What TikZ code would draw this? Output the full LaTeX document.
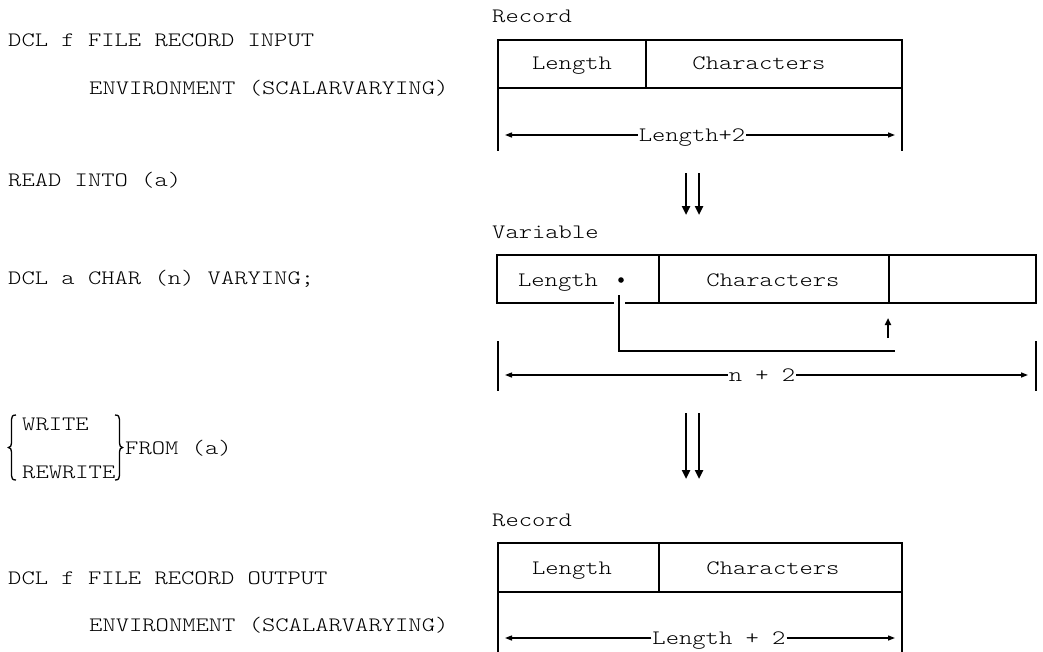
\documentclass[tikz,border=0pt]{standalone}
\usepackage{fontspec}
\newfontfamily\cour[FakeStretch=1.236]{lmmonolt10-regular.otf}
\usetikzlibrary{arrows.meta,calc}
\tikzset{
  txt/.style={anchor=base west,inner sep=0pt,font=\cour\fontsize{20.5}{24}\selectfont},
  ctxt/.style={anchor=base,inner sep=0pt,font=\cour\fontsize{20.5}{24}\selectfont},
  dlab/.style={anchor=base,inner xsep=1pt,inner ysep=0pt,font=\cour\fontsize{20.5}{24}\selectfont},
  boxline/.style={line width=2.3pt,line cap=rect},
  dimline/.style={line width=1.3pt,-{Triangle[length=7pt,width=5pt]}},
  flowarrow/.style={line width=2.6pt,-{Triangle[length=9pt,width=8pt]}},
  ptr/.style={line width=2.2pt},
  bracepath/.style={line width=1.3pt},
}
\begin{document}
\begin{tikzpicture}[x=1pt,y=-1pt]
\useasboundingbox (0,0) rectangle (1043,651);

% ---------- left texts ----------
\node[txt] (t1) at (8,46.5) {DCL f FILE RECORD INPUT};
\node[txt] (t2) at (89,94.5) {ENVIRONMENT (SCALARVARYING)};
\node[txt] (t3) at (8,186.5) {READ INTO (a)};
\node[txt] (t4) at (8,284.5) {DCL a CHAR (n) VARYING;};
\node[txt] (t5) at (22,430.5) {WRITE};
\node[txt] (t6) at (22,478.5) {REWRITE};
\node[txt] (t7) at (125,454.5) {FROM (a)};
\node[txt] (t8) at (8,584.5) {DCL f FILE RECORD OUTPUT};
\node[txt] (t9) at (89,631.5) {ENVIRONMENT (SCALARVARYING)};

% braces
\draw[bracepath] (16,415) .. controls (12.5,415) and (11.5,416.5) .. (11.5,419.5) -- (11.5,443)
  .. controls (11.5,446) and (10.5,447) .. (8.5,447.5)
  .. controls (10.5,448) and (11.5,449) .. (11.5,452) -- (11.5,475.5)
  .. controls (11.5,478.5) and (12.5,480) .. (16,480);
\draw[bracepath] (115,415) .. controls (118.5,415) and (119.5,416.5) .. (119.5,419.5) -- (119.5,443)
  .. controls (119.5,446) and (120.5,447) .. (122.5,447.5)
  .. controls (120.5,448) and (119.5,449) .. (119.5,452) -- (119.5,475.5)
  .. controls (119.5,478.5) and (118.5,480) .. (115,480);

% ---------- box 1 ----------
\node[txt] (r1) at (492,22.5) {Record};
\draw[boxline] (498,150) -- (498,40) -- (902,40) -- (902,150);
\draw[boxline] (498,88) -- (902,88);
\draw[boxline] (646,40) -- (646,88);
\node[ctxt] (l1) at (572,69.5) {Length};
\node[ctxt] (c1) at (759,69.5) {Characters};
\coordinate (d1l) at (505,135);
\coordinate (d1r) at (895,135);
\node[dlab] (dl1) at (692,141.5) {Length+2};
\draw[dimline] (dl1.west |- d1l) -- (d1l);
\draw[dimline] (dl1.east |- d1r) -- (d1r);

% flow arrows 1
\coordinate (fa1) at (686,173);
\coordinate (fa1e) at (686,215);
\coordinate (fb1) at (699,173);
\coordinate (fb1e) at (699,215);
\draw[flowarrow] (fa1) -- (fa1e);
\draw[flowarrow] (fb1) -- (fb1e);

% ---------- box 2 ----------
\node[txt] (v2) at (492,238.5) {Variable};
\draw[boxline] (613,303) -- (497,303) -- (497,255) -- (1036,255) -- (1036,303) -- (626,303);
\draw[boxline] (659,255) -- (659,303);
\draw[boxline] (889,255) -- (889,303);
\node[ctxt] (l2) at (558,286.5) {Length};
\node[ctxt] (c2) at (773,286.5) {Characters};
\fill (621,280) circle (2.8pt);
\coordinate (p0) at (619,295);
\coordinate (p1) at (619,351);
\coordinate (p2) at (895,351);
\draw[ptr] (p0) -- (p1) -- (p2);
\coordinate (u0) at (888,338);
\coordinate (u1) at (888,318);
\draw[line width=2pt,-{Triangle[length=7pt,width=6pt]}] (u0) -- (u1);
\draw[boxline] (498,342) -- (498,390);
\draw[boxline] (1036,342) -- (1036,390);
\coordinate (d2l) at (505,375);
\coordinate (d2r) at (1028,375);
\node[dlab] (dl2) at (762,381.5) {n + 2};
\draw[dimline] (dl2.west |- d2l) -- (d2l);
\draw[dimline] (dl2.east |- d2r) -- (d2r);

% flow arrows 2
\coordinate (fa2) at (686,413);
\coordinate (fa2e) at (686,479);
\coordinate (fb2) at (699,413);
\coordinate (fb2e) at (699,479);
\draw[flowarrow] (fa2) -- (fa2e);
\draw[flowarrow] (fb2) -- (fb2e);

% ---------- box 3 ----------
\node[txt] (r3) at (492,526.5) {Record};
\draw[boxline] (498,651) -- (498,543) -- (902,543) -- (902,651);
\draw[boxline] (498,592) -- (902,592);
\draw[boxline] (659,543) -- (659,592);
\node[ctxt] (l3) at (572,574.5) {Length};
\node[ctxt] (c3) at (773,574.5) {Characters};
\coordinate (d3l) at (505,638);
\coordinate (d3r) at (895,638);
\node[dlab] (dl3) at (719,644.5) {Length + 2};
\draw[dimline] (dl3.west |- d3l) -- (d3l);
\draw[dimline] (dl3.east |- d3r) -- (d3r);
\end{tikzpicture}
\end{document}
